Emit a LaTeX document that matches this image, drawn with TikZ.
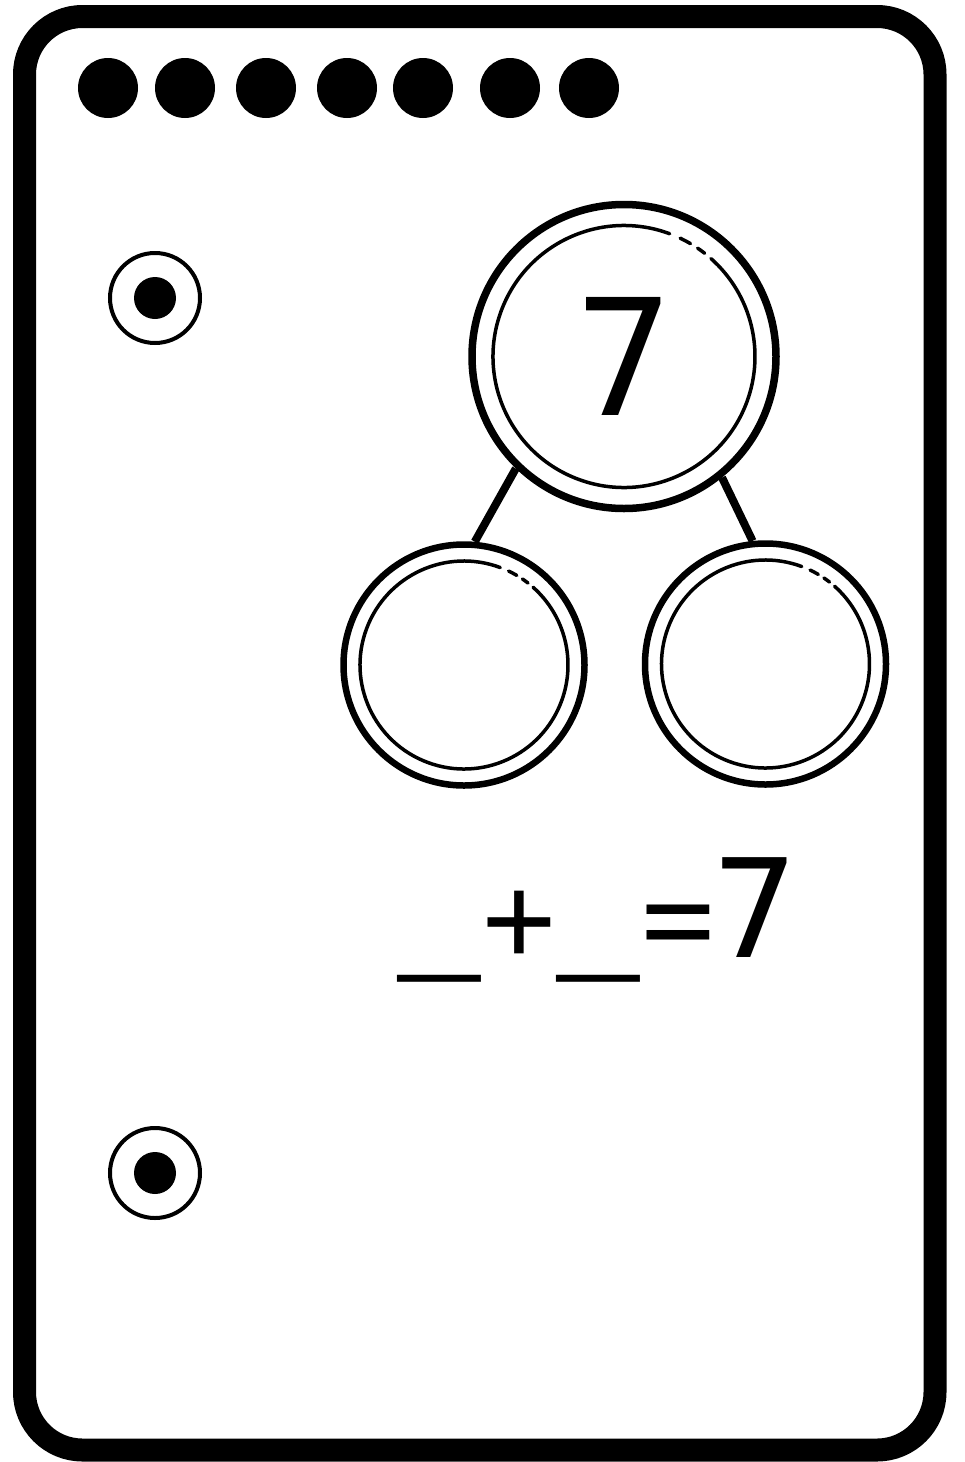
\documentclass[tikz,border=0pt]{standalone}
\usepackage{fontspec}
\newfontfamily\eqfont{TeX Gyre Heros}
\newfontfamily\bondfont{DejaVu Sans Mono}
\newfontfamily\sumfont{DejaVu Sans}

\begin{document}
\begin{tikzpicture}[x=1pt, y=1pt,
    ring/.style={circle, draw, inner sep=0pt, minimum size=#1},
    innerring/.style={line width=3.5pt, line cap=round},
    stem/.style={line width=8pt}]
  \useasboundingbox (0,0) rectangle (964,-1462);
  % card frame
  \draw[line width=23pt, rounded corners=58pt] (24.5,-16.5) rectangle (935,-1450);
  \foreach \x in {108,185,266,347,423,510,589}
    \fill (\x,-88) circle[radius=30pt];
  \foreach \y in {298,1173} {
    \draw[line width=4pt] (155,-\y) circle[radius=45pt];
    \fill (155,-\y) circle[radius=21pt];
  }
  % number bond
  \node[ring=304pt, line width=7.5pt, font=\bondfont\fontsize{162}{162}\selectfont] (whole) at (624,-356.5) {7};
  \node[ring=241pt, line width=6.5pt] (partL) at (464,-665) {};
  \node[ring=241pt, line width=6.5pt] (partR) at (765.5,-664) {};
  \foreach \n/\r in {whole/131, partL/104, partR/104} {
    \draw[innerring] (\n.center) ++(69.6:\r) arc[start angle=69.6, end angle=408.4, radius=\r];
    \draw[innerring] (\n.center) ++(59.5:\r) arc[start angle=59.5, end angle=64.6, radius=\r];
    \draw[innerring] (\n.center) ++(52:\r) arc[start angle=52, end angle=55.8, radius=\r];
  }
  \draw[stem] (whole.226) -- (partL.85);
  \draw[stem] (whole.309) -- (partR.96);
  \node[anchor=base west, inner sep=0pt, font=\eqfont\fontsize{140}{140}\selectfont] (sum) at (400,-957)
    {\_+\_=\kern-8pt{\sumfont\fontsize{137}{137}\selectfont 7}};
\end{tikzpicture}
\end{document}
